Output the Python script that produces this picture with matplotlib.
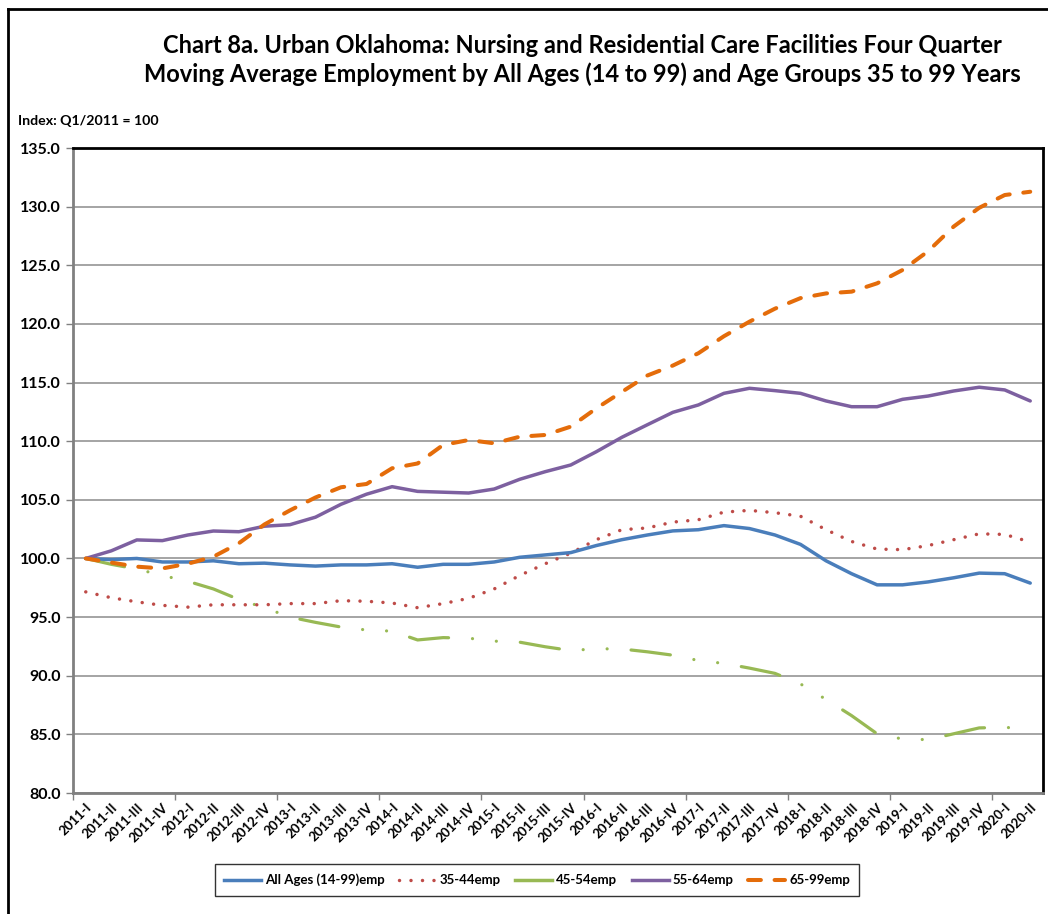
import matplotlib
matplotlib.use("Agg")
import matplotlib.pyplot as plt
from matplotlib.lines import Line2D

plt.rcParams['font.family'] = ['Lato', 'DejaVu Sans']

quarters = ["2011-I", "2011-II", "2011-III", "2011-IV",
            "2012-I", "2012-II", "2012-III", "2012-IV",
            "2013-I", "2013-II", "2013-III", "2013-IV",
            "2014-I", "2014-II", "2014-III", "2014-IV",
            "2015-I", "2015-II", "2015-III", "2015-IV",
            "2016-I", "2016-II", "2016-III", "2016-IV",
            "2017-I", "2017-II", "2017-III", "2017-IV",
            "2018-I", "2018-II", "2018-III", "2018-IV",
            "2019-I", "2019-II", "2019-III", "2019-IV",
            "2020-I", "2020-II"]

all_ages = [100.0, 99.9, 100.0, 99.7, 99.7, 99.8, 99.55, 99.6, 99.45, 99.35,
            99.45, 99.45, 99.55, 99.25, 99.5, 99.5, 99.7, 100.1, 100.3, 100.5,
            101.1, 101.6, 102.0, 102.35, 102.45, 102.8, 102.55, 102.0, 101.2, 99.8,
            98.7, 97.75, 97.75, 98.0, 98.35, 98.75, 98.7, 97.9]

emp_35_44 = [97.15, 96.65, 96.3, 96.0, 95.85, 96.05, 96.05, 96.05, 96.15, 96.15,
             96.4, 96.35, 96.2, 95.8, 96.15, 96.6, 97.4, 98.55, 99.55, 100.45,
             101.6, 102.45, 102.6, 103.1, 103.3, 103.95, 104.1, 103.9, 103.6, 102.45,
             101.45, 100.8, 100.75, 101.1, 101.6, 102.1, 102.05, 101.4]

emp_45_54 = [100.0, 99.5, 99.1, 98.55, 98.05, 97.4, 96.5, 95.8, 95.0, 94.55,
             94.15, 93.9, 93.8, 93.05, 93.25, 93.2, 92.95, 92.86, 92.47, 92.15,
             92.3, 92.28, 92.04, 91.75, 91.3, 91.05, 90.65, 90.2, 89.3, 87.98,
             86.6, 85.05, 84.6, 84.55, 85.05, 85.55, 85.6, 85.45]

emp_55_64 = [100.0, 100.65, 101.58, 101.52, 102.0, 102.34, 102.28, 102.75, 102.88, 103.52,
             104.62, 105.48, 106.12, 105.72, 105.65, 105.58, 105.92, 106.75, 107.4, 107.97,
             109.1, 110.33, 111.4, 112.46, 113.09, 114.08, 114.51, 114.31, 114.08, 113.43,
             112.94, 112.94, 113.57, 113.85, 114.28, 114.6, 114.37, 113.43]

emp_65_99 = [100.0, 99.65, 99.3, 99.15, 99.55, 100.15, 101.3, 102.9, 104.1, 105.2,
             106.07, 106.35, 107.69, 108.1, 109.68, 110.1, 109.82, 110.38, 110.53, 111.24,
             112.8, 114.2, 115.6, 116.45, 117.5, 118.95, 120.19, 121.3, 122.2, 122.6,
             122.75, 123.46, 124.6, 126.2, 128.3, 129.9, 130.99, 131.27]

series_labels = ["All Ages (14-99)emp", "35-44emp", "45-54emp", "55-64emp", "65-99emp"]

W, H = 1048, 914
fig = plt.figure(figsize=(W / 100, H / 100), dpi=100)
ax = fig.add_axes([73 / W, 1 - 793 / H, (1043 - 73) / W, (793 - 148) / H])

x = list(range(len(quarters)))
lw = 2.5

ax.plot(x, all_ages, color='#4A7EBB', lw=lw, solid_capstyle='round', solid_joinstyle='round', zorder=5)
ax.plot(x, emp_35_44, color='#BE4B48', lw=lw, linestyle=(0, (0.01, 3.3)), dash_capstyle='round', zorder=4)
ax.plot(x, emp_45_54, color='#98B954', lw=2.3, linestyle=(0, (12.4, 7.5, 0.01, 7.5, 0.01, 7.5)),
        dash_capstyle='round', zorder=3)
ax.plot(x, emp_55_64, color='#7D60A0', lw=lw, solid_capstyle='round', solid_joinstyle='round', zorder=5)
ax.plot(x, emp_65_99, color='#E46C0A', lw=2.9, linestyle=(0, (3.2, 3.4)), dash_capstyle='round', zorder=6)

ax.set_xlim(-0.5, len(quarters) - 0.5)
ax.set_ylim(80, 135)
yt = [80 + 5 * k for k in range(12)]
ax.set_yticks(yt)
ax.set_yticklabels([f"{v:.1f}" for v in yt], fontsize=11.5, fontweight='bold')
ax.yaxis.grid(True, color='#8C8C8C', lw=1.1)
ax.set_axisbelow(True)
ax.tick_params(axis='y', direction='out', length=5, width=1, color='#808080', pad=4)

ax.set_xticks(x)
ax.set_xticklabels(quarters, rotation=45, ha='right', rotation_mode='anchor',
                   fontsize=9.5, fontweight='bold')
ax.tick_params(axis='x', which='major', length=0, pad=6)
ax.set_xticks([-0.5 + 4 * k for k in range(10)], minor=True)
ax.tick_params(axis='x', which='minor', direction='out', length=5, width=1, color='#808080')

for s in ['left', 'bottom']:
    ax.spines[s].set_color('#808080')
    ax.spines[s].set_linewidth(2)
for s in ['top', 'right']:
    ax.spines[s].set_color('black')
    ax.spines[s].set_linewidth(2)

fig.text(582 / W, 1 - 60 / H,
         "Chart 8a. Urban Oklahoma: Nursing and Residential Care Facilities Four Quarter\n"
         "Moving Average Employment by All Ages (14 to 99) and Age Groups 35 to 99 Years",
         ha='center', va='center', fontsize=17, fontweight='bold', linespacing=1.3)
fig.text(18 / W, 1 - 121 / H, "Index: Q1/2011 = 100", ha='left', va='center',
         fontsize=10.2, fontweight='bold')

handles = [
    Line2D([], [], color='#4A7EBB', lw=lw),
    Line2D([], [], color='#BE4B48', lw=lw, linestyle=(0, (0.01, 3.3)), dash_capstyle='round'),
    Line2D([], [], color='#98B954', lw=lw),
    Line2D([], [], color='#7D60A0', lw=lw),
    Line2D([], [], color='#E46C0A', lw=2.9, linestyle=(0, (3.2, 3.4)), dash_capstyle='round'),
]
leg = fig.legend(handles, series_labels, loc='center', bbox_to_anchor=(537 / W, 1 - 880 / H),
                 ncol=5, frameon=True, fancybox=False, edgecolor='black',
                 prop={'weight': 'bold', 'size': 9.5}, handlelength=2.8, columnspacing=1.1,
                 handletextpad=0.3, borderpad=0.7)
leg.get_frame().set_linewidth(1)

# outer chart border (left and top visible)
fig.add_artist(Line2D([8 / W, 8 / W], [0, 1 - 9 / H], transform=fig.transFigure, color='black', lw=2))
fig.add_artist(Line2D([8 / W, 1], [1 - 9 / H, 1 - 9 / H], transform=fig.transFigure, color='black', lw=2))

fig.savefig("out.png", dpi=100)
